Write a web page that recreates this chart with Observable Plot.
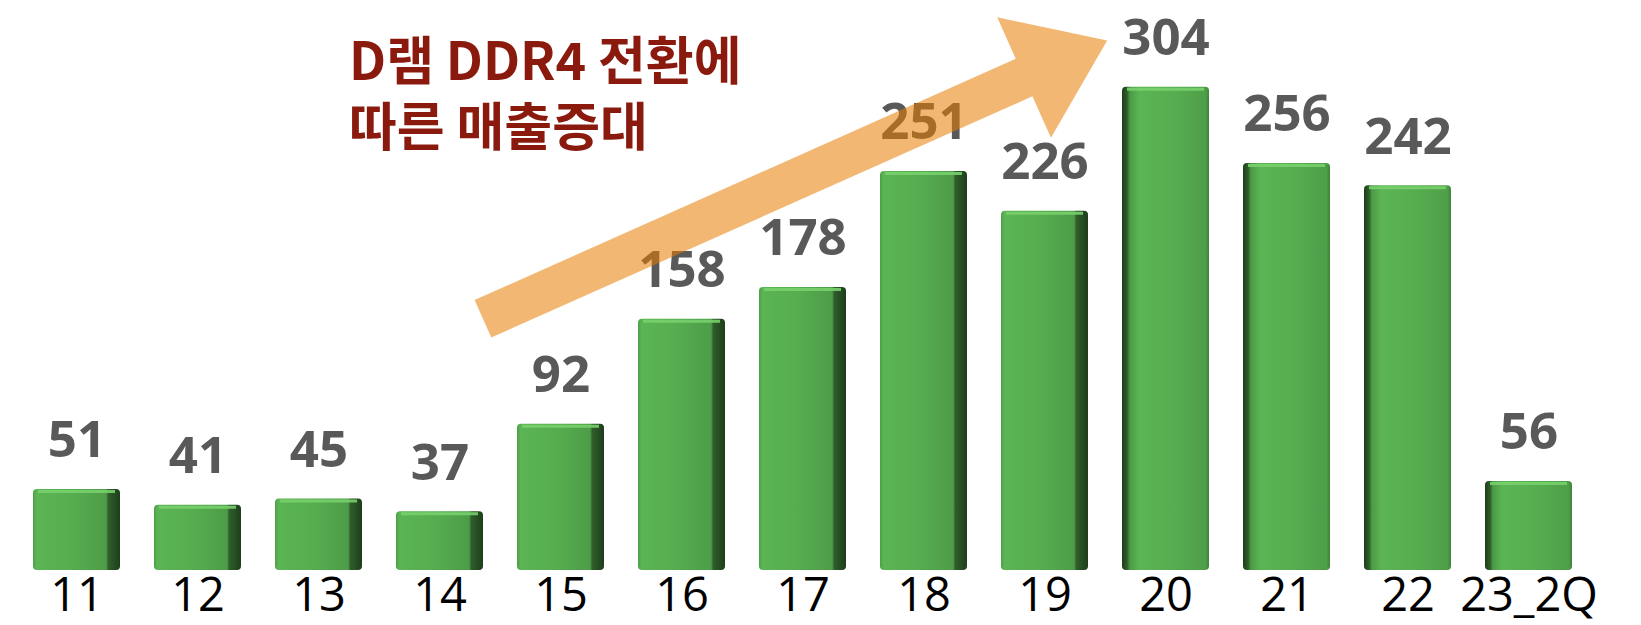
<!DOCTYPE html>
<html><head><meta charset="utf-8">
<script src="https://cdn.jsdelivr.net/npm/d3@7"></script>
<script src="https://cdn.jsdelivr.net/npm/@observablehq/plot@0.6"></script>
<style>
  html,body{margin:0;padding:0;background:#fff}
  #chart svg{display:block}
</style>
</head><body><div id="chart"></div>
<script>
// ---- data ----
const categories = ["11","12","13","14","15","16","17","18","19","20","21","22","23_2Q"];
const values = [51, 41, 45, 37, 92, 158, 178, 251, 226, 304, 256, 242, 56];
const annotationLines = ["D램 DDR4 전환에", "따른 매출증대"];
// arrow from/to in (category-index, value) units
const arrowFrom = [3.357, 158];
const arrowTo = [8.516, 333];

const data = categories.map((c, i) => ({cat: c, value: values[i], side: i >= 9 ? "left" : "right"}));

const W = 1641, H = 625;
const padInner = 0.277;

function defsMark() {
  const defs = d3.create("svg:defs");
  const mk = (id, stops) => {
    const g = defs.append("linearGradient").attr("id", id).attr("x1", 0).attr("x2", 1).attr("y1", 0).attr("y2", 0);
    for (const [o, c] of stops) g.append("stop").attr("offset", o).attr("stop-color", c);
  };
  mk("gR", [[0, "#4d9e47"], [0.04, "#5bb554"], [0.45, "#56ad4f"], [0.84, "#4e9c48"], [0.865, "#2f5e2b"], [1, "#1e3d1b"]]);
  mk("gL", [[0, "#1e3d1b"], [0.06, "#2f5e2b"], [0.09, "#4c9a46"], [0.2, "#5bb554"], [0.6, "#56ad4f"], [0.96, "#4f9e49"], [1, "#3f8239"]]);
  return defs.node();
}

function arrowMark(index, scales) {
  const x = scales.x, y = scales.y;
  const step = x(categories[1]) - x(categories[0]);
  const bw = step * (1 - padInner);
  const x0 = x(categories[0]) + bw / 2;
  const P = ([t, v]) => [x0 + t * step, y(v)];
  const a = P(arrowFrom), b = P(arrowTo);
  const dx = b[0] - a[0], dy = b[1] - a[1], len = Math.hypot(dx, dy);
  const u = [dx / len, dy / len], n = [-u[1], u[0]];
  const hw = 20.5, HW = 66, L = 91;
  const base = [b[0] - u[0] * L, b[1] - u[1] * L];
  const pt = (p, s) => [p[0] + n[0] * s, p[1] + n[1] * s];
  const pts = [pt(a, hw), pt(base, hw), pt(base, HW), b, pt(base, -HW), pt(base, -hw), pt(a, -hw)];
  const g = d3.create("svg:path")
    .attr("d", "M" + pts.map(p => p.join(",")).join("L") + "Z")
    .attr("fill", "#e77e00")
    .attr("fill-opacity", 0.55);
  return g.node();
}

const plot = Plot.plot({
  width: W,
  height: H,
  marginLeft: 12,
  marginRight: 47,
  marginTop: 0,
  marginBottom: 55,
  style: {fontFamily: "'Open Sans', 'Noto Sans', sans-serif", background: "#fff"},
  x: {domain: categories, paddingInner: padInner, paddingOuter: padInner / 2, label: null},
  y: {domain: [0, 358.5], axis: null},
  marks: [
    defsMark,
    Plot.barY(data.filter(d => d.side === "right"), {x: "cat", y: "value", fill: "url(#gR)", rx: 4}),
    Plot.barY(data.filter(d => d.side === "left"), {x: "cat", y: "value", fill: "url(#gL)", rx: 4}),
    Plot.tickY(data, {x: "cat", y: "value", stroke: "#78d06b", strokeWidth: 3, dy: 2, insetLeft: 5, insetRight: 5, strokeOpacity: 0.9}),
    Plot.text(data, {x: "cat", y: "value", text: d => String(d.value), lineAnchor: "bottom", dy: -32,
      fontSize: 51, fontWeight: 700, fill: "#595959"}),
    Plot.axisX({tickSize: 0, tickPadding: 7, fontSize: 47, fill: "#000", label: null}),
    arrowMark,
    Plot.text([annotationLines.join("\n")], {x: () => categories[2], y: () => 267, text: d => d,
      textAnchor: "start", lineAnchor: "bottom", lineHeight: 1.27, dx: 30,
      fontSize: 52, fontWeight: 700, fill: "#8b1a0e",
      fontFamily: "'Noto Sans CJK KR', 'Noto Sans', sans-serif"})
  ]
});
document.getElementById("chart").appendChild(plot);
</script>
</body></html>
